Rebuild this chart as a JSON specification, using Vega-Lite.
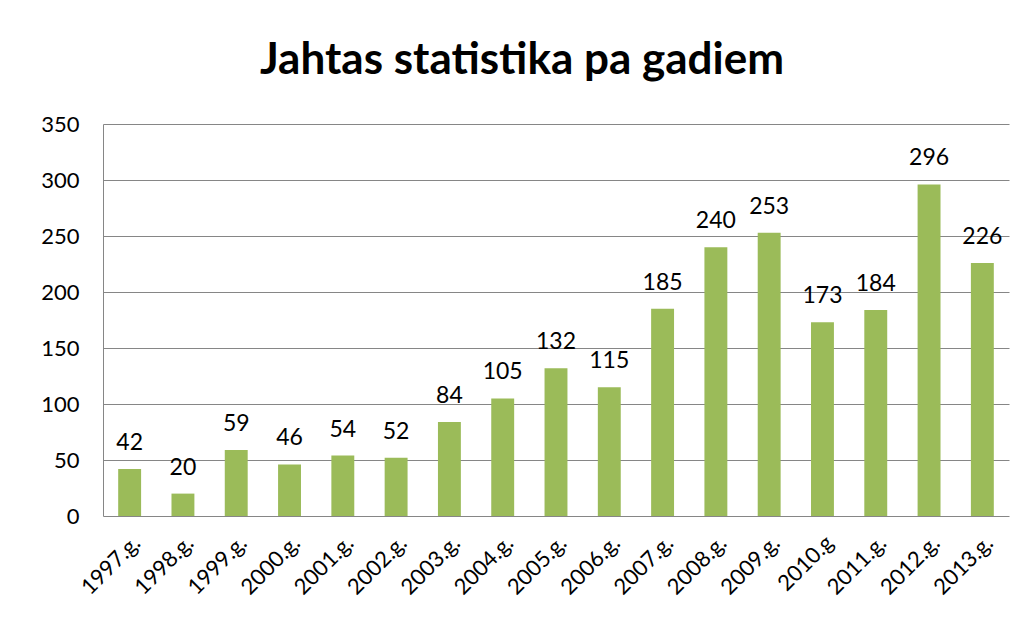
{
  "$schema": "https://vega.github.io/schema/vega-lite/v6.json",
  "width": 906,
  "height": 392,
  "autosize": {"type": "none"},
  "padding": {"left": 103, "top": 124, "right": 15, "bottom": 128},
  "background": "white",
  "title": {
    "text": "Jahtas statistika pa gadiem",
    "font": "Lato",
    "fontWeight": "bold",
    "fontSize": 44,
    "color": "#000000",
    "anchor": "middle",
    "offset": 30,
    "dx": -34
  },
  "data": {
    "values": [
      {"gads": "1997.g.", "skaits": 42},
      {"gads": "1998.g.", "skaits": 20},
      {"gads": "1999.g.", "skaits": 59},
      {"gads": "2000.g.", "skaits": 46},
      {"gads": "2001.g.", "skaits": 54},
      {"gads": "2002.g.", "skaits": 52},
      {"gads": "2003.g.", "skaits": 84},
      {"gads": "2004.g.", "skaits": 105},
      {"gads": "2005.g.", "skaits": 132},
      {"gads": "2006.g.", "skaits": 115},
      {"gads": "2007.g.", "skaits": 185},
      {"gads": "2008.g.", "skaits": 240},
      {"gads": "2009.g.", "skaits": 253},
      {"gads": "2010.g", "skaits": 173},
      {"gads": "2011.g.", "skaits": 184},
      {"gads": "2012.g.", "skaits": 296},
      {"gads": "2013.g.", "skaits": 226}
    ]
  },
  "encoding": {
    "x": {
      "field": "gads",
      "type": "nominal",
      "sort": null,
      "scale": {"paddingInner": 0.57, "paddingOuter": 0.285},
      "axis": {
        "title": null,
        "labelAngle": -45,
        "labelFont": "Lato",
        "labelFontSize": 22,
        "labelColor": "#000000",
        "ticks": false,
        "domain": false,
        "labelPadding": 16
      }
    },
    "y": {
      "field": "skaits",
      "type": "quantitative",
      "scale": {"domain": [0, 350]},
      "axis": {
        "title": null,
        "values": [0, 50, 100, 150, 200, 250, 300, 350],
        "labelFont": "Lato",
        "labelFontSize": 22,
        "labelColor": "#000000",
        "labelPadding": 24,
        "ticks": false,
        "domainColor": "#868686",
        "gridColor": "#868686",
        "gridWidth": 1
      }
    }
  },
  "layer": [
    {"mark": {"type": "bar", "color": "#9BBB59"}},
    {
      "mark": {"type": "text", "baseline": "alphabetic", "dy": -19, "font": "Lato", "fontSize": 23, "color": "#000000"},
      "encoding": {"text": {"field": "skaits", "type": "quantitative"}}
    }
  ],
  "config": {
    "view": {"stroke": null}
  }
}
